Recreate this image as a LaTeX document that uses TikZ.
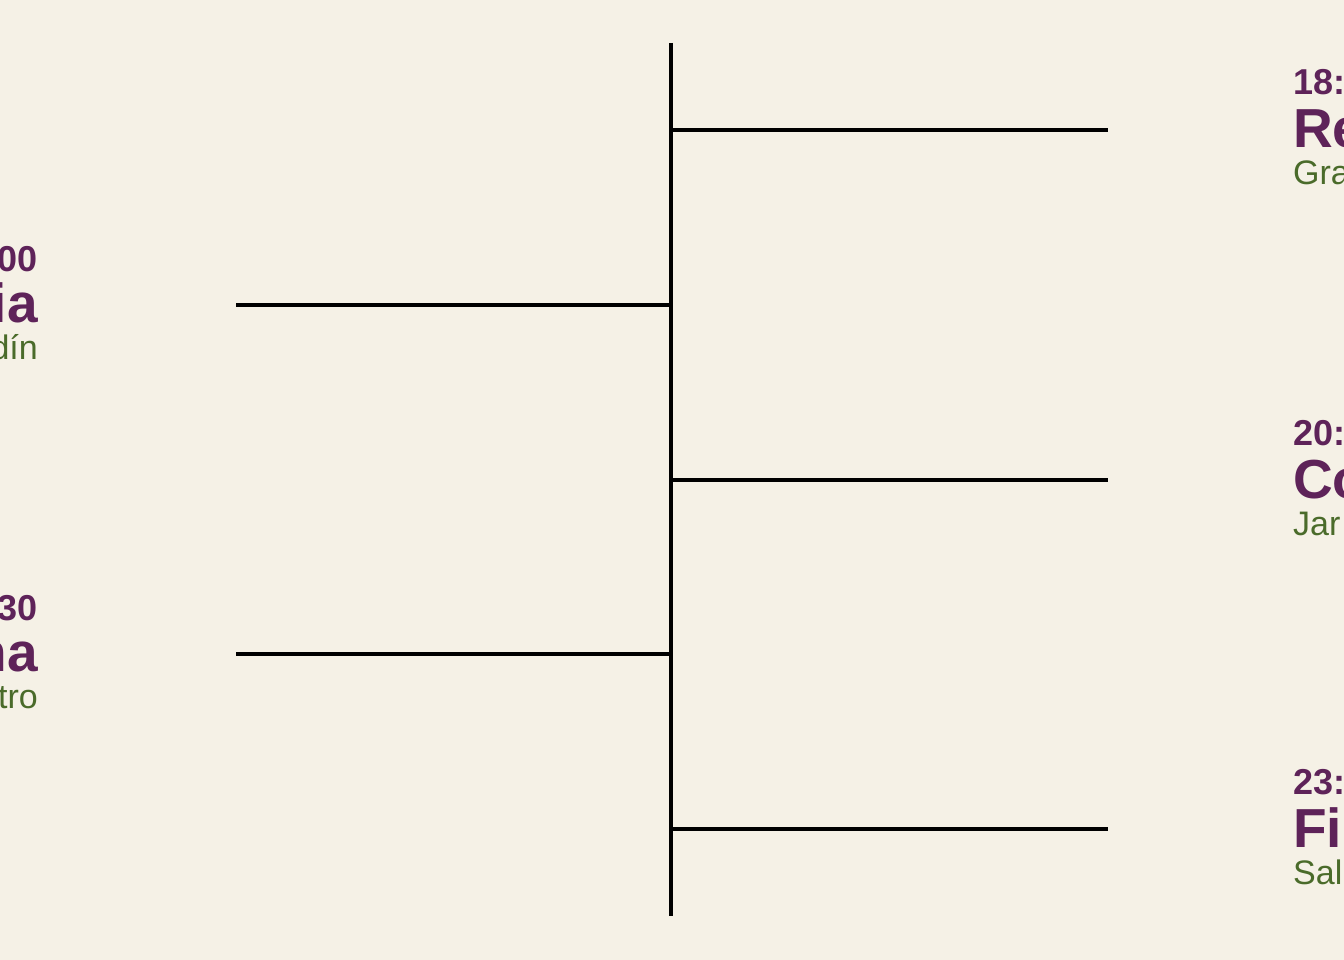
\documentclass[tikz,border=0pt]{standalone}
\usepackage{fontspec}
\setmainfont{Liberation Sans}
\definecolor{bgc}{HTML}{F5F1E6}
\definecolor{plum}{HTML}{5E2359}
\definecolor{moss}{HTML}{4A6B2A}
\tikzset{
  axis/.style={line width=4.5pt, black},
  branch/.style={line width=4.5pt, black},
  timetxt/.style={inner sep=0pt, text=plum, font=\fontsize{36}{36}\selectfont\bfseries},
  titletxt/.style={inner sep=0pt, text=plum, font=\fontsize{55}{55}\selectfont\bfseries},
  subtxt/.style={inner sep=0pt, text=moss, font=\fontsize{34}{34}\selectfont},
}
\begin{document}
\begin{tikzpicture}[x=1pt,y=-1pt]
\fill[bgc] (0,0) rectangle (1344,960);
\useasboundingbox (0,0) rectangle (1344,960);
\clip (0,0) rectangle (1344,960);
% axis
\coordinate (top) at (671,43);
\coordinate (bot) at (671,916);
\draw[axis] (top) -- (bot);
% right branches
\coordinate (j1) at (671,130); \coordinate (r1) at (1108,130);
\coordinate (j2) at (671,480); \coordinate (r2) at (1108,480);
\coordinate (j3) at (671,829); \coordinate (r3) at (1108,829);
\draw[branch] (j1) -- (r1);
\draw[branch] (j2) -- (r2);
\draw[branch] (j3) -- (r3);
% left branches
\coordinate (j4) at (671,305); \coordinate (l4) at (236,305);
\coordinate (j5) at (671,654); \coordinate (l5) at (236,654);
\draw[branch] (j4) -- (l4);
\draw[branch] (j5) -- (l5);
% right labels
\node[timetxt, anchor=base west] (t1) at (1293,95) {18:};
\node[titletxt, anchor=base west] (n1) at (1293,148) {Re};
\node[subtxt, anchor=base west] (s1) at (1293,185) {Gra};
\node[timetxt, anchor=base west] (t2) at (1293,445) {20:};
\node[titletxt, anchor=base west] (n2) at (1293,498) {Co};
\node[subtxt, anchor=base west] (s2) at (1293,535) {Jar};
\node[timetxt, anchor=base west] (t3) at (1293,794) {23:};
\node[titletxt, anchor=base west] (n3) at (1293,847) {Fi};
\node[subtxt, anchor=base west] (s3) at (1293,884) {Sal};
% left labels
\node[timetxt, anchor=base east] (t4) at (38,271) {00};
\node[titletxt, anchor=base east] (n4) at (38,322) {ia};
\node[subtxt, anchor=base east] (s4) at (38,359) {dín};
\node[timetxt, anchor=base east] (t5) at (38,620) {30};
\node[titletxt, anchor=base east] (n5) at (38,671) {na};
\node[subtxt, anchor=base east] (s5) at (38,708) {tro};
\end{tikzpicture}
\end{document}
